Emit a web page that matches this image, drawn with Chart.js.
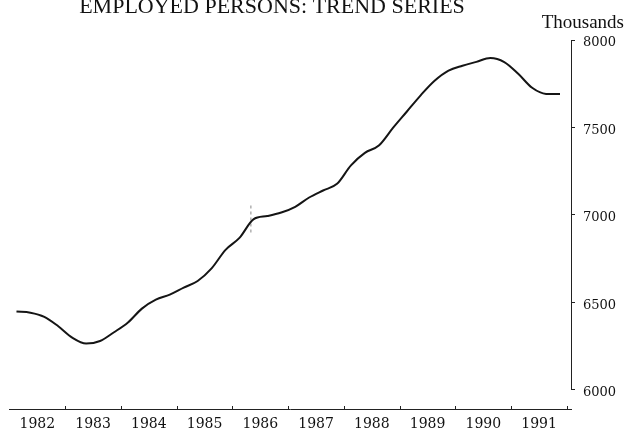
<!DOCTYPE html>
<html>
<head>
<meta charset="utf-8">
<script src="https://cdn.jsdelivr.net/npm/chart.js@4"></script>
<style>
  html,body{margin:0;padding:0;background:#fff;}
  #wrap{width:625px;height:430px;}
</style>
</head>
<body>
<div id="wrap"><canvas id="c" width="625" height="430"></canvas></div>
<script>
// ---- data ----
const titleText = 'EMPLOYED PERSONS: TREND SERIES';
const unitText = 'Thousands';
const yearLabels = ['1982','1983','1984','1985','1986','1987','1988','1989','1990','1991'];
const yTickValues = [6000, 6500, 7000, 7500, 8000];
const quarters = [
  '1982-Q1','1982-Q2','1982-Q3','1982-Q4',
  '1983-Q1','1983-Q2','1983-Q3','1983-Q4',
  '1984-Q1','1984-Q2','1984-Q3','1984-Q4',
  '1985-Q1','1985-Q2','1985-Q3','1985-Q4',
  '1986-Q1','1986-Q2','1986-Q3','1986-Q4',
  '1987-Q1','1987-Q2','1987-Q3','1987-Q4',
  '1988-Q1','1988-Q2','1988-Q3','1988-Q4',
  '1989-Q1','1989-Q2','1989-Q3','1989-Q4',
  '1990-Q1','1990-Q2','1990-Q3','1990-Q4',
  '1991-Q1','1991-Q2','1991-Q3','1991-Q4'
];
const employed = [
  6448, 6442, 6418, 6364,
  6299, 6265, 6280, 6330,
  6386, 6465, 6516, 6545,
  6585, 6623, 6695, 6801,
  6869, 6975, 6994, 7014,
  7047, 7100, 7140, 7178,
  7284, 7355, 7397, 7496,
  7590, 7684, 7767, 7825,
  7853, 7875, 7897, 7874,
  7807, 7727, 7692, 7691
];
// series-break marker (1986)
const breakTime = 1986.33;
const breakRange = [6900, 7070];

// ---- helpers ----
function quarterToTime(q){
  const [yr, qq] = q.split('-Q');
  return Number(yr) + (Number(qq) - 0.5) / 4;
}
const firstYear = Number(yearLabels[0]);
const lastYear = Number(yearLabels[yearLabels.length - 1]);
const linePoints = quarters.map((q, i) => ({x: quarterToTime(q), y: employed[i]}));
const breakPoints = breakRange.map(v => ({x: breakTime, y: v}));

const deco = {
  id: 'deco',
  afterDraw(chart){
    const {ctx, chartArea, scales} = chart;
    const x = scales.x, y = scales.y;
    ctx.save();
    ctx.strokeStyle = '#222';
    ctx.lineWidth = 1;
    // y axis line from lowest to highest tick
    const ax = Math.round(chartArea.right) + 0.5;
    ctx.beginPath();
    ctx.moveTo(ax, y.getPixelForValue(yTickValues[yTickValues.length - 1]));
    ctx.lineTo(ax, y.getPixelForValue(yTickValues[0]));
    ctx.stroke();
    // year boundary tick marks (pointing up)
    ctx.beginPath();
    for (let yr = firstYear + 1; yr <= lastYear + 1; yr++){
      const px = Math.round(x.getPixelForValue(yr)) + 0.5;
      ctx.moveTo(px, chartArea.bottom);
      ctx.lineTo(px, chartArea.bottom - 3);
    }
    ctx.stroke();
    // title and unit
    ctx.fillStyle = '#111';
    ctx.font = '22px "Liberation Serif"';
    ctx.textAlign = 'center';
    ctx.textBaseline = 'alphabetic';
    ctx.fillText(titleText, 272, 13);
    ctx.font = '19px "Liberation Serif"';
    ctx.textAlign = 'right';
    ctx.fillText(unitText, 624, 28);
    ctx.restore();
  }
};

new Chart(document.getElementById('c'), {
  type: 'line',
  data: {
    datasets: [
      {
        data: linePoints,
        borderColor: '#151515',
        borderWidth: 2,
        pointRadius: 0,
        tension: 0.4,
        cubicInterpolationMode: 'monotone',
        fill: false
      },
      {
        data: breakPoints,
        borderColor: '#888',
        borderWidth: 1,
        borderDash: [3, 3],
        pointRadius: 0,
        fill: false
      }
    ]
  },
  options: {
    responsive: false,
    devicePixelRatio: 1,
    animation: false,
    layout: {padding: {left: 9.5, top: 40, right: 0, bottom: 0}},
    plugins: {legend: {display: false}, tooltip: {enabled: false}, title: {display: false}},
    scales: {
      x: {
        type: 'linear',
        min: firstYear,
        max: 1992.072,
        afterBuildTicks: s => { s.ticks = yearLabels.map(l => ({value: Number(l) + 0.5})); },
        afterFit: s => { s.height = 21; },
        grid: {display: false, drawTicks: false},
        border: {display: true, color: '#222', width: 1},
        ticks: {
          autoSkip: false,
          maxRotation: 0,
          padding: 7,
          color: '#111',
          font: {family: 'DejaVu Serif', size: 14},
          callback: v => String(Math.floor(v))
        }
      },
      y: {
        type: 'linear',
        position: 'right',
        min: 5891.4,
        max: 8000,
        afterBuildTicks: s => { s.ticks = yTickValues.map(v => ({value: v})); },
        afterFit: s => { s.width = 54; },
        grid: {display: true, drawOnChartArea: false, drawTicks: true, tickLength: 4, color: '#222'},
        border: {display: false},
        ticks: {
          padding: 8,
          labelOffset: 3,
          color: '#111',
          font: {family: 'DejaVu Serif', size: 13},
          callback: v => String(v)
        }
      }
    }
  },
  plugins: [deco]
});
</script>
</body>
</html>
